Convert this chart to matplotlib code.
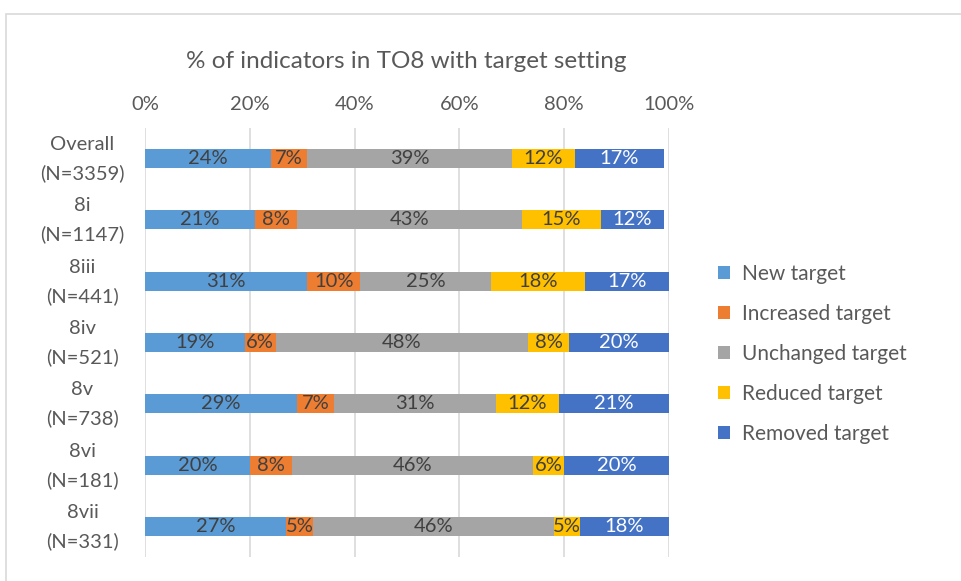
import matplotlib.pyplot as plt
from matplotlib.patches import Patch, Rectangle
from matplotlib.transforms import ScaledTranslation
import numpy as np

categories = ['Overall\n(N=3359)', '8i\n(N=1147)', '8iii\n(N=441)', '8iv\n(N=521)',
              '8v\n(N=738)', '8vi\n(N=181)', '8vii\n(N=331)']
series = ['New target', 'Increased target', 'Unchanged target', 'Reduced target', 'Removed target']
new_target = [24, 21, 31, 19, 29, 20, 27]
increased_target = [7, 8, 10, 6, 7, 8, 5]
unchanged_target = [39, 43, 25, 48, 31, 46, 46]
reduced_target = [12, 15, 18, 8, 12, 6, 5]
removed_target = [17, 12, 17, 20, 21, 20, 18]
tick_values = [0, 20, 40, 60, 80, 100]

colors = ['#5b9bd5', '#ed7d31', '#a5a5a5', '#ffc000', '#4472c4']
label_colors = ['#404040', '#404040', '#404040', '#404040', 'white']
text_grey = '#595959'
plt.rcParams['font.family'] = ['Lato', 'DejaVu Sans']

fig = plt.figure(figsize=(9.62, 5.81), dpi=100)
# chart frame
fig.patches.append(Rectangle((6 / 962, -0.1), 1.2, 1 - 14 / 581 + 0.1,
                             transform=fig.transFigure, fill=False,
                             edgecolor='#d9d9d9', linewidth=1.2))

ax = fig.add_axes([145 / 962, 24 / 581, 524 / 962, 429 / 581])
values = np.array([new_target, increased_target, unchanged_target, reduced_target, removed_target])
y = np.arange(len(categories))
left = np.zeros(len(categories))
for i, name in enumerate(series):
    bars = ax.barh(y, values[i], left=left, height=0.31, color=colors[i], label=name, zorder=2)
    ax.bar_label(bars, labels=['%d%%' % v for v in values[i]], label_type='center',
                 color=label_colors[i], fontsize=14.5)
    left += values[i]

ax.set_ylim(len(categories) - 0.5, -0.5)
ax.set_xlim(0, 100)
ax.set_xticks(tick_values)
ax.set_xticklabels(['%d%%' % t for t in tick_values])
ax.xaxis.tick_top()
ax.tick_params(axis='x', length=0, pad=11, labelsize=14.5, labelcolor=text_grey)
ax.tick_params(axis='y', length=0, pad=45, labelsize=14.5, labelcolor=text_grey)
ax.set_yticks(y)
ax.set_yticklabels(categories, ha='center', linespacing=1.75)
# nudge the two-line category labels up so they sit centred on the bars
shift = ScaledTranslation(0, 0.065, fig.dpi_scale_trans)
for lab in ax.get_yticklabels():
    lab.set_transform(lab.get_transform() + shift)
ax.grid(axis='x', color='#d9d9d9', linewidth=1.2, zorder=0)
ax.set_axisbelow(True)
for s in ax.spines.values():
    s.set_visible(False)

fig.text(406 / 962, 1 - 61 / 581, '% of indicators in TO8 with target setting',
         ha='center', va='center', fontsize=17.5, color=text_grey)

handles = [Patch(facecolor=c, edgecolor='none') for c in colors]
leg = fig.legend(handles, series, loc='center left', bbox_to_anchor=(699 / 962, 1 - 354 / 581),
                 frameon=False, fontsize=15, handlelength=0.6, handleheight=0.6,
                 handletextpad=0.55, labelspacing=0.96, labelcolor=text_grey)

fig.savefig('out.png', dpi=100, facecolor='white')
